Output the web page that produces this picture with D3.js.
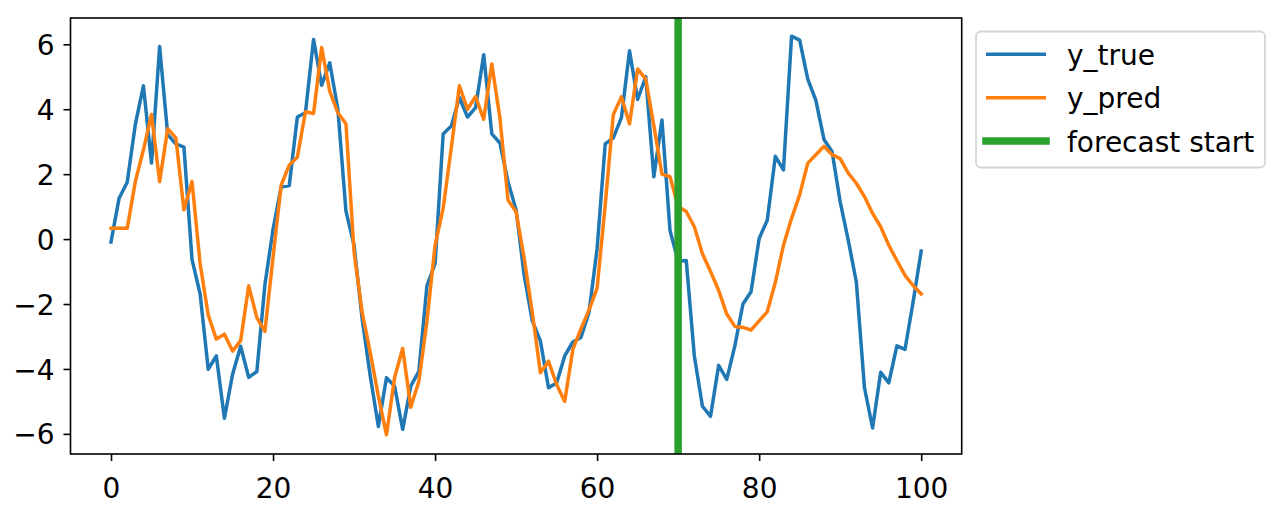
<!DOCTYPE html>
<html>
<head>
<meta charset="utf-8">
<script src="https://cdn.jsdelivr.net/npm/d3@7"></script>
<style>
  body { margin: 0; background: #fff; }
  svg { display: block; font-family: "DejaVu Sans", sans-serif; }
</style>
</head>
<body>
<script>
var width = 1278,
    height = 509;

// values, index 0..100
var yTrue = [
  -0.09, 1.26, 1.75, 3.53, 4.72, 2.34, 5.93, 3.22, 2.93, 2.83,
  -0.63, -1.69, -4.01, -3.6, -5.52, -4.17, -3.3, -4.26, -4.08, -1.4,
  0.3, 1.6, 1.65, 3.76, 3.89, 6.15, 4.74, 5.43, 4.0, 0.86,
  -0.19, -2.46, -4.22, -5.77, -4.27, -4.53, -5.86, -4.53, -4.07, -1.43,
  -0.76, 3.24, 3.48, 4.36, 3.76, 4.05, 5.68, 3.24, 2.96, 1.77,
  0.9, -1.12, -2.52, -3.14, -4.58, -4.43, -3.6, -3.17, -3.03, -2.26,
  -0.29, 2.93, 3.12, 3.74, 5.8, 4.3, 5.0, 1.92, 3.67, 0.26,
  -0.68, -0.66, -3.6, -5.15, -5.46, -3.89, -4.32, -3.29, -2.0, -1.62,
  0.02, 0.58, 2.55, 2.13, 6.25, 6.13, 4.93, 4.27, 3.07, 2.7,
  1.15, -0.04, -1.33, -4.58, -5.82, -4.1, -4.43, -3.29, -3.4, -1.94,
  -0.37
];

var yPred = [
  0.33, 0.33, 0.33, 1.77, 2.75, 3.84, 1.77, 3.4, 3.12, 0.9,
  1.77, -0.76, -2.34, -3.08, -2.93, -3.45, -3.13, -1.44, -2.42, -2.84,
  -0.56, 1.66, 2.28, 2.52, 3.92, 3.87, 5.9, 4.55, 3.89, 3.55,
  -0.4, -2.26, -3.5, -4.84, -6.03, -4.27, -3.37, -5.18, -4.38, -2.52,
  -0.19, 0.95, 2.81, 4.72, 4.0, 4.39, 3.69, 5.39, 3.74, 1.2,
  0.84, -0.6, -2.26, -4.12, -3.76, -4.48, -5.0, -3.4, -2.77, -2.18,
  -1.51, 1.05, 3.84, 4.38, 3.55, 5.24, 4.93, 3.5, 2.0, 1.92,
  1.0, 0.85, 0.38, -0.45, -1.0, -1.58, -2.31, -2.69, -2.72, -2.8,
  -2.52, -2.24, -1.33, -0.19, 0.64, 1.36, 2.34, 2.6, 2.86, 2.6,
  2.48, 2.03, 1.72, 1.31, 0.79, 0.38, -0.19, -0.66, -1.12, -1.43,
  -1.69
];

var forecastStart = 70;
var xTicks = [0, 20, 40, 60, 80, 100];
var yTicks = [-6, -4, -2, 0, 2, 4, 6];
var seriesNames = ["y_true", "y_pred", "forecast start"];
var seriesColors = ["#1f77b4", "#ff7f0e", "#2ca02c"];

var axL = 70.5, axR = 961.7, axT = 18, axB = 454;

var x = d3.scaleLinear().domain([-5, 105]).range([axL, axR]);
var y = d3.scaleLinear().domain([-6.62, 6.81]).range([axB, axT]);

var svg = d3.select("body").append("svg")
    .attr("width", width)
    .attr("height", height);

svg.append("clipPath").attr("id", "clip")
  .append("rect")
    .attr("x", axL).attr("y", axT)
    .attr("width", axR - axL).attr("height", axB - axT);

var plot = svg.append("g")
    .attr("clip-path", "url(#clip)");

var line = d3.line()
    .x(function(d, i) { return x(i); })
    .y(function(d) { return y(d); });

plot.append("path")
    .datum(yTrue)
    .attr("d", line)
    .attr("fill", "none")
    .attr("stroke", seriesColors[0])
    .attr("stroke-width", 3.5)
    .attr("stroke-linejoin", "round")
    .attr("stroke-linecap", "square");

plot.append("path")
    .datum(yPred)
    .attr("d", line)
    .attr("fill", "none")
    .attr("stroke", seriesColors[1])
    .attr("stroke-width", 3.5)
    .attr("stroke-linejoin", "round")
    .attr("stroke-linecap", "square");

plot.append("line")
    .attr("x1", x(forecastStart)).attr("x2", x(forecastStart))
    .attr("y1", axT).attr("y2", axB)
    .attr("stroke", seriesColors[2])
    .attr("stroke-width", 7.5);

//axes
var xAxis = svg.append("g")
    .attr("transform", "translate(0," + axB + ")")
    .call(d3.axisBottom(x).tickValues(xTicks).tickSize(7).tickPadding(17));

var yAxis = svg.append("g")
    .attr("transform", "translate(" + axL + ",0)")
    .call(d3.axisLeft(y).tickValues(yTicks).tickSize(7).tickPadding(9));

svg.selectAll(".domain").remove();
svg.selectAll(".tick line").attr("stroke", "#000").attr("stroke-width", 1.6);
svg.selectAll(".tick text")
    .attr("fill", "#000")
    .style("font-size", "28px")
    .style("font-family", "DejaVu Sans");
yAxis.selectAll(".tick text").attr("dy", "0.36em");

svg.append("rect")
    .attr("x", axL).attr("y", axT)
    .attr("width", axR - axL).attr("height", axB - axT)
    .attr("fill", "none")
    .attr("stroke", "#000")
    .attr("stroke-width", 1.6);

//legend
var legend = svg.append("g");

legend.append("rect")
    .attr("x", 976).attr("y", 31.5)
    .attr("width", 289).attr("height", 136)
    .attr("rx", 5).attr("ry", 5)
    .attr("fill", "#fff")
    .attr("stroke", "#d5d5d5")
    .attr("stroke-width", 1.8);

var rows = legend.selectAll(".row")
    .data(seriesNames)
  .enter().append("g")
    .attr("transform", function(d, i) { return "translate(0," + (54.3 + i * 43.4) + ")"; });

rows.append("line")
    .attr("x1", 986).attr("x2", 1046)
    .attr("stroke", function(d, i) { return seriesColors[i]; })
    .attr("stroke-width", function(d, i) { return i == 2 ? 7.5 : 3.5; })
    .attr("stroke-linecap", function(d, i) { return i == 2 ? "square" : "butt"; });

rows.append("text")
    .attr("x", 1067)
    .attr("y", 10.7)
    .style("font-size", "28px")
    .attr("fill", "#000")
    .text(function(d) { return d; });
</script>
</body>
</html>
